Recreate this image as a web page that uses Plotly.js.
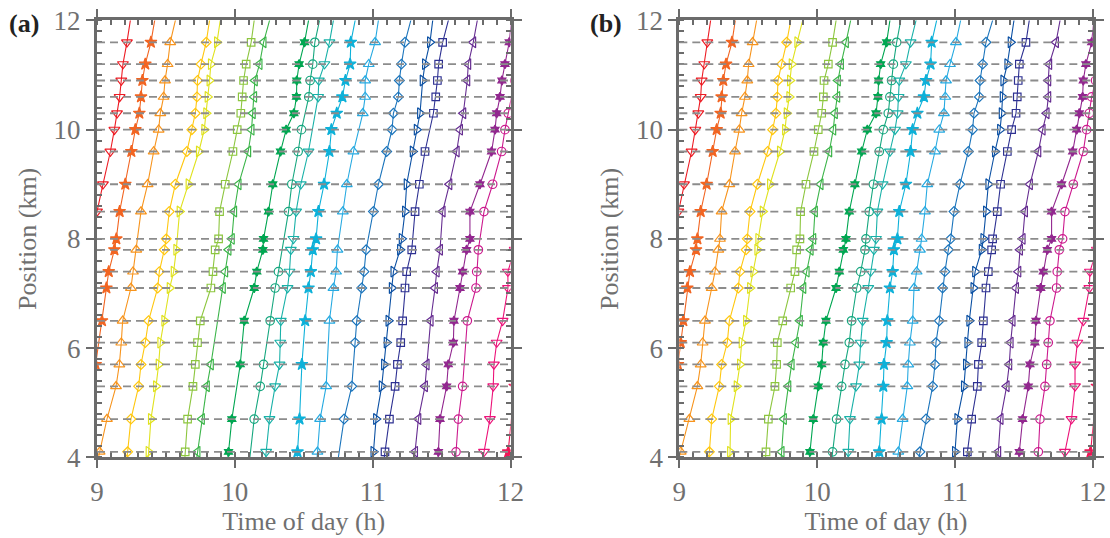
<!DOCTYPE html>
<html>
<head>
<meta charset="utf-8">
<script src="https://cdn.plot.ly/plotly-3.0.1.min.js"></script>
<style>
  html, body { margin: 0; padding: 0; background: #ffffff; }
  #chart { width: 1110px; height: 538px; }
</style>
</head>
<body>
<div id="chart"></div>
<script>
// Detector positions along the road (km), bottom to top.
const SENSOR_KM = [4.1, 4.7, 5.3, 5.7, 6.1, 6.5, 7.1, 7.4, 7.8, 8.0, 8.5, 9.0, 9.6, 10.0, 10.3, 10.6, 10.9, 11.2, 11.6];
// Each trajectory also has a point just below and just above the window.
const TRACK_KM = [3.8, ...SENSOR_KM, 12.2];

// (a) observed passage times (h); null = not detected at that position
const obsA01 = [null, null, null, null, null, null, null, null, null, null, 8.95, 9.000, 9.043, 9.097, 9.126, 9.145, 9.164, 9.176, 9.188, 9.217, 9.254];
const obsA02 = [null, null, null, null, 8.99, null, 9.036, 9.068, 9.085, 9.126, 9.140, 9.164, 9.205, 9.249, 9.278, 9.307, 9.319, 9.329, 9.350, 9.391, 9.432];
const obsA03 = [8.993, 9.019, 9.072, 9.138, 9.162, 9.176, 9.186, 9.246, 9.261, 9.285, null, 9.319, 9.367, 9.411, 9.447, 9.459, 9.483, 9.493, 9.512, 9.531, 9.587];
const obsA04 = [9.210, 9.222, 9.246, 9.302, 9.319, 9.350, 9.374, 9.440, 9.452, 9.488, 9.502, 9.524, 9.568, 9.652, 9.688, 9.713, 9.725, 9.729, 9.754, 9.792, 9.828];
const obsA05 = [9.366, 9.374, 9.391, 9.428, 9.447, 9.459, 9.488, 9.527, 9.556, 9.575, null, 9.599, 9.664, 9.739, 9.778, 9.792, 9.802, 9.816, 9.826, 9.870, 9.906];
const obsA06 = [9.632, 9.640, 9.657, 9.696, 9.713, 9.729, 9.749, 9.826, 9.841, 9.857, 9.882, 9.889, 9.930, 9.986, 10.017, 10.043, 10.053, 10.063, 10.082, 10.118, 10.151];
const obsA07 = [9.713, 9.729, 9.761, 9.797, 9.826, null, null, 9.913, 9.930, 9.954, 9.978, 9.995, 10.027, 10.097, 10.121, 10.130, 10.140, 10.145, 10.179, 10.208, 10.273];
const obsA08 = [9.942, 9.954, 9.978, null, 10.039, null, 10.068, 10.140, 10.159, 10.203, 10.208, 10.244, 10.275, 10.331, 10.372, 10.428, 10.447, 10.449, 10.466, 10.505, 10.549];
const obsA09 = [10.10, null, 10.140, 10.184, 10.208, null, 10.256, 10.292, 10.316, null, null, 10.389, 10.413, 10.459, 10.483, null, 10.536, 10.546, 10.565, 10.580, 10.631];
const obsA10 = [10.215, 10.227, 10.251, 10.292, 10.324, 10.329, 10.333, 10.382, 10.396, 10.406, 10.425, 10.444, 10.478, 10.534, null, null, 10.604, 10.609, 10.650, 10.686, 10.729];
const obsA11 = [10.447, 10.454, 10.469, null, 10.486, null, 10.510, 10.534, 10.551, 10.565, 10.589, 10.606, 10.647, 10.686, 10.700, 10.739, 10.780, 10.802, 10.836, 10.841, 10.888];
const obsA12 = [10.590, 10.599, 10.618, 10.662, null, null, 10.686, 10.715, 10.734, 10.744, null, 10.783, 10.812, 10.860, null, 10.928, 10.945, 10.945, 10.971, 11.017, 11.053];
const obsA13 = [10.739, null, 10.792, 10.848, null, 10.872, 10.884, 10.920, 10.937, 10.952, null, 11.005, 11.041, 11.101, 11.140, 11.150, 11.186, 11.193, 11.208, 11.234, 11.297];
const obsA14 = [10.996, 11.005, 11.024, 11.065, 11.082, 11.101, 11.114, 11.138, 11.150, 11.198, 11.210, 11.234, 11.246, 11.290, 11.319, 11.343, null, 11.362, 11.379, 11.415, 11.445];
const obsA15 = [11.073, 11.089, 11.121, 11.162, 11.179, 11.203, 11.217, 11.234, 11.246, 11.283, null, 11.307, 11.338, 11.379, null, 11.440, 11.457, 11.469, 11.478, 11.507, 11.569];
const obsA16 = [11.295, 11.307, 11.331, 11.379, 11.391, null, 11.420, 11.452, 11.464, 11.488, null, 11.507, 11.556, 11.609, 11.633, 11.657, null, 11.686, 11.693, 11.729, 11.773];
const obsA17 = [11.470, 11.476, 11.488, 11.536, 11.548, 11.585, 11.589, 11.633, 11.652, 11.681, 11.705, 11.705, 11.778, 11.862, 11.887, 11.899, 11.923, 11.937, 11.959, 11.990, 12.015];
const obsA18 = [11.596, 11.604, 11.621, 11.652, null, null, 11.686, 11.749, 11.754, 11.766, null, 11.807, 11.870, 11.935, 11.959, 11.983, null, 12.03, null, null, null];
const obsA19 = [11.786, 11.807, 11.850, 11.874, 11.879, 11.899, 11.942, 11.981, 11.980, 12.03, null, null, null, null, null, null, null, null, null, null, null];
const obsA20 = [11.97, 11.983, null, 12.03, null, null, null, null, null, null, null, null, null, null, null, null, null, null, null, null, null];

// (b) reconstructed passage times (h) at every position
const recB01 = [null, null, null, null, null, null, null, null, null, null, 8.95, 8.993, 9.034, 9.089, 9.116, 9.138, 9.155, 9.162, 9.181, 9.203, 9.239];
const recB02 = [null, null, null, null, 8.99, 9.010, 9.029, 9.058, 9.077, 9.121, 9.131, 9.155, 9.198, 9.242, 9.271, 9.300, 9.307, 9.319, 9.339, 9.382, 9.418];
const recB03 = [8.979, 9.010, 9.073, 9.131, 9.155, 9.169, 9.186, 9.235, 9.259, 9.283, 9.295, 9.307, 9.363, 9.404, 9.435, 9.452, 9.476, 9.493, 9.503, 9.532, 9.575];
const recB04 = [9.210, 9.218, 9.235, 9.290, 9.307, 9.348, 9.363, 9.428, 9.440, 9.484, 9.493, 9.513, 9.566, 9.641, 9.677, 9.701, 9.711, 9.716, 9.742, 9.779, 9.823];
const recB05 = [9.366, 9.368, 9.372, 9.416, 9.440, 9.452, 9.484, 9.513, 9.537, 9.566, 9.573, 9.605, 9.658, 9.730, 9.767, 9.779, 9.798, 9.803, 9.815, 9.856, 9.915];
const recB06 = [9.620, 9.629, 9.646, 9.694, 9.706, 9.711, 9.750, 9.808, 9.839, 9.851, 9.875, 9.880, 9.919, 9.977, 10.008, 10.033, 10.045, 10.050, 10.081, 10.112, 10.150];
const recB07 = [9.734, 9.742, 9.759, 9.791, 9.815, 9.846, 9.875, 9.900, 9.924, 9.953, 9.972, 9.984, 10.025, 10.088, 10.117, 10.129, 10.146, 10.151, 10.173, 10.209, 10.260];
const recB08 = [9.936, 9.948, 9.972, 10.008, 10.033, 10.044, 10.064, 10.137, 10.161, 10.190, 10.209, 10.233, 10.274, 10.323, 10.364, 10.427, 10.441, 10.446, 10.461, 10.504, 10.540];
const recB09 = [10.098, 10.112, 10.141, 10.178, 10.202, 10.233, 10.250, 10.287, 10.316, 10.347, 10.354, 10.378, 10.408, 10.451, 10.480, 10.516, 10.528, 10.540, 10.553, 10.577, 10.621];
const recB10 = [10.220, 10.226, 10.238, 10.282, 10.306, 10.316, 10.330, 10.371, 10.388, 10.412, 10.427, 10.437, 10.475, 10.528, 10.565, 10.584, 10.591, 10.596, 10.644, 10.678, 10.737];
const recB11 = [10.443, 10.451, 10.468, 10.480, 10.485, 10.504, 10.509, 10.528, 10.548, 10.557, 10.582, 10.596, 10.644, 10.678, 10.693, 10.727, 10.775, 10.790, 10.823, 10.831, 10.885];
const recB12 = [10.574, 10.589, 10.620, 10.654, 10.661, 10.673, 10.693, 10.703, 10.722, 10.746, 10.758, 10.782, 10.799, 10.855, 10.886, 10.920, 10.930, 10.935, 10.964, 11.007, 11.058];
const recB13 = [10.724, 10.746, 10.790, 10.838, 10.855, 10.862, 10.886, 10.910, 10.927, 10.952, 10.969, 10.993, 11.036, 11.097, 11.128, 11.138, 11.177, 11.182, 11.201, 11.225, 11.297];
const recB14 = [10.992, 11.000, 11.017, 11.065, 11.080, 11.090, 11.104, 11.134, 11.146, 11.194, 11.206, 11.225, 11.242, 11.290, 11.327, 11.339, 11.346, 11.351, 11.380, 11.404, 11.440];
const recB15 = [11.075, 11.090, 11.121, 11.162, 11.170, 11.194, 11.206, 11.225, 11.242, 11.266, 11.273, 11.307, 11.331, 11.380, 11.411, 11.443, 11.452, 11.459, 11.467, 11.515, 11.551];
const recB16 = [11.306, 11.314, 11.331, 11.375, 11.394, 11.404, 11.418, 11.443, 11.460, 11.472, 11.491, 11.508, 11.544, 11.605, 11.636, 11.665, 11.677, 11.677, 11.684, 11.733, 11.777];
const recB17 = [11.455, 11.467, 11.491, 11.532, 11.544, 11.580, 11.588, 11.622, 11.641, 11.670, 11.701, 11.701, 11.774, 11.854, 11.883, 11.902, 11.926, 11.931, 11.950, 11.992, 12.015];
const recB18 = [11.599, 11.605, 11.617, 11.653, 11.665, 11.677, 11.689, 11.737, 11.742, 11.757, 11.781, 11.798, 11.859, 11.931, 11.955, 11.975, 11.992, 12.02, null, null, null];
const recB19 = [11.774, 11.798, 11.846, 11.871, 11.871, 11.888, 11.931, 11.975, 11.979, 12.03, null, null, null, null, null, null, null, null, null, null, null];
const recB20 = [11.97, 11.984, null, 12.03, null, null, null, null, null, null, null, null, null, null, null, null, null, null, null, null, null];

const PANEL_A = [obsA01, obsA02, obsA03, obsA04, obsA05, obsA06, obsA07, obsA08, obsA09, obsA10,
                 obsA11, obsA12, obsA13, obsA14, obsA15, obsA16, obsA17, obsA18, obsA19, obsA20];
const PANEL_B = [recB01, recB02, recB03, recB04, recB05, recB06, recB07, recB08, recB09, recB10,
                 recB11, recB12, recB13, recB14, recB15, recB16, recB17, recB18, recB19, recB20];

// Styles: one colour per vehicle, marker shapes cycle every nine vehicles
const COLORS = ['#ed1c24', '#f26522', '#f7941d', '#ffc70f', '#e0e21f', '#8dc63f', '#3cb54a', '#00a651',
                '#16a77f', '#19b1a8', '#0db1d9', '#27aae1', '#1c75bc', '#0b50a3', '#2e3192', '#662d91',
                '#92278f', '#cc1a8e', '#ec1379', '#ee1656'];
const SYMBOLS = ['triangle-down-open', 'star', 'triangle-up-open', 'diamond-open', 'triangle-right-open',
                 'square-open', 'triangle-left-open', 'hexagram', 'circle-open'];
const SIZES = {'star': 9, 'hexagram': 7, 'circle-open': 8.5, 'square-open': 7.5, 'diamond-open': 7.5,
               'triangle-down-open': 9.5, 'triangle-up-open': 9.5, 'triangle-left-open': 9.5, 'triangle-right-open': 9.5};

const AXIS_GREY = '#6b6b6b';
const TEXT_GREY = '#707070';
const FONT = 'Liberation Serif, Times New Roman, serif';

function tracks(panel, xa, ya) {
  return panel.map((times, i) => {
    const sym = SYMBOLS[i % SYMBOLS.length];
    return {
      type: 'scatter', mode: 'lines+markers', xaxis: xa, yaxis: ya,
      x: times, y: TRACK_KM, connectgaps: true, cliponaxis: true,
      line: {color: COLORS[i], width: 1.1},
      marker: {symbol: sym, size: SIZES[sym], color: COLORS[i],
               line: {color: COLORS[i], width: 1.2}},
      hoverinfo: 'x+y', showlegend: false
    };
  });
}

const data = [...tracks(PANEL_A, 'x', 'y'), ...tracks(PANEL_B, 'x2', 'y2')];

function xAxis(domain, anchor) {
  return {
    domain: domain, anchor: anchor, range: [9, 12], tickvals: [9, 10, 11, 12],
    ticks: 'outside', ticklen: 8, tickwidth: 2, tickcolor: AXIS_GREY,
    minor: {dtick: 0.1, ticks: 'inside', ticklen: 5, tickwidth: 2, tickcolor: AXIS_GREY},
    showline: true, linewidth: 3, linecolor: AXIS_GREY, mirror: 'allticks',
    showgrid: false, zeroline: false,
    tickfont: {family: FONT, size: 27, color: TEXT_GREY},
    title: {text: 'Time of day (h)', font: {family: FONT, size: 26, color: TEXT_GREY}, standoff: 4}
  };
}
function yAxis(anchor) {
  return {
    domain: [0.15, 0.962], anchor: anchor, range: [4, 12], tickvals: [4, 6, 8, 10, 12],
    ticks: 'outside', ticklen: 8, tickwidth: 2, tickcolor: AXIS_GREY,
    minor: {dtick: 0.2, ticks: 'inside', ticklen: 5, tickwidth: 2, tickcolor: AXIS_GREY},
    showline: true, linewidth: 3, linecolor: AXIS_GREY, mirror: 'allticks',
    showgrid: false, zeroline: false,
    tickfont: {family: FONT, size: 27, color: TEXT_GREY},
    title: {text: 'Position (km)', font: {family: FONT, size: 26, color: TEXT_GREY}, standoff: 10}
  };
}

// Dashed detector lines, drawn above the trajectories in both panels
const shapes = [];
[['x', 'y'], ['x2', 'y2']].forEach(([xa, ya]) => {
  SENSOR_KM.forEach(km => {
    shapes.push({type: 'line', layer: 'above', xref: xa + ' domain', yref: ya,
                 x0: 0, x1: 1, y0: km, y1: km,
                 line: {color: '#8c8c8c', width: 1.8, dash: '8px,5px'}});
  });
});

const layout = {
  width: 1110, height: 538,
  margin: {l: 0, r: 0, t: 0, b: 0},
  paper_bgcolor: '#ffffff', plot_bgcolor: '#ffffff',
  xaxis: xAxis([0.0874, 0.4600], 'y'),
  yaxis: yAxis('x'),
  xaxis2: xAxis([0.6120, 0.9845], 'y2'),
  yaxis2: yAxis('x2'),
  shapes: shapes,
  annotations: [
    {text: '<b>(a)</b>', xref: 'paper', yref: 'paper', x: 0.006, y: 0.957, xanchor: 'left', yanchor: 'middle',
     showarrow: false, font: {family: FONT, size: 26, color: '#222222'}},
    {text: '<b>(b)</b>', xref: 'paper', yref: 'paper', x: 0.530, y: 0.957, xanchor: 'left', yanchor: 'middle',
     showarrow: false, font: {family: FONT, size: 26, color: '#222222'}}
  ]
};

Plotly.newPlot('chart', data, layout, {displayModeBar: false, staticPlot: true});
</script>
</body>
</html>
